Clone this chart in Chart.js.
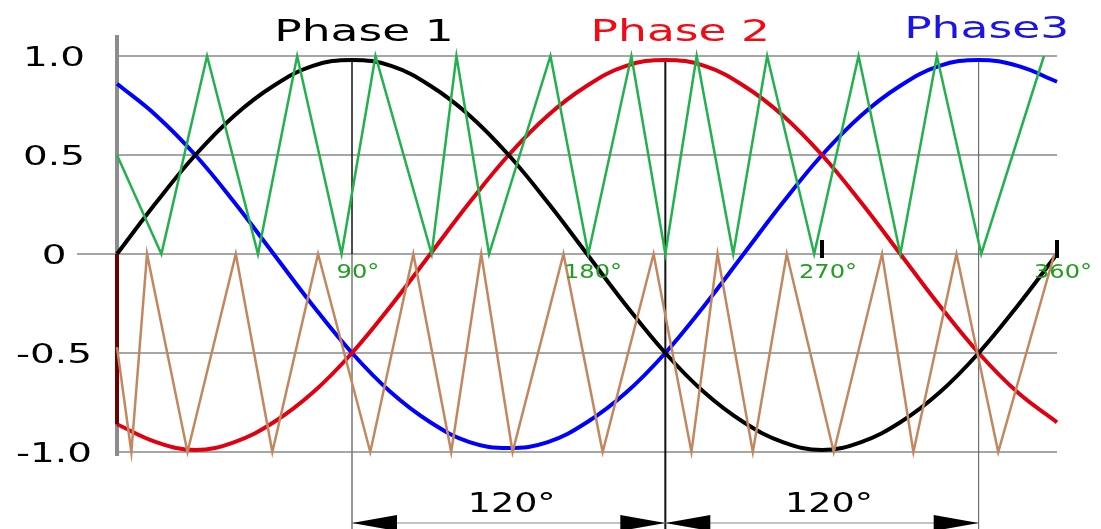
<!DOCTYPE html>
<html>
<head>
<meta charset="utf-8">
<script src="https://cdn.jsdelivr.net/npm/chart.js"></script>
<style>
  body { margin: 0; background: #fff; }
</style>
</head>
<body>
<canvas id="myChart" width="1101" height="529"></canvas>
<script>

const angles = [0, 15, 30, 45, 60, 75, 90, 105, 120, 135, 150, 165, 180, 195, 210, 225, 240, 255, 270, 285, 300, 315, 330, 345, 360];
const phase1 = [0, 0.26, 0.5, 0.7, 0.85, 0.95, 0.98, 0.95, 0.85, 0.7, 0.5, 0.26, 0, -0.26, -0.5, -0.7, -0.85, -0.95, -0.99, -0.95, -0.85, -0.7, -0.5, -0.26, 0];
const phase2 = [-0.86, -0.95, -0.99, -0.95, -0.85, -0.7, -0.5, -0.26, 0, 0.26, 0.5, 0.7, 0.85, 0.95, 0.98, 0.95, 0.85, 0.7, 0.5, 0.26, 0, -0.26, -0.5, -0.7, -0.85];
const phase3 = [0.86, 0.7, 0.5, 0.26, 0, -0.26, -0.5, -0.7, -0.85, -0.95, -0.98, -0.95, -0.85, -0.7, -0.5, -0.26, 0, 0.26, 0.5, 0.7, 0.85, 0.95, 0.98, 0.95, 0.87];

// portadora triangular verde (arriba) y marron (abajo)
const greenX = [0, 17, 34.5, 54, 69, 86, 99, 120.5, 130, 142.5, 166, 180.5, 197, 210, 222, 236, 249, 267, 284, 300, 314, 331, 355];
const greenY = [0.5, 0, 1, 0, 1, 0, 1, 0, 1, 0, 1, 0, 1, 0, 1, 0, 1, 0, 1, 0, 1, 0, 1];
const brownX = [0, 5.5, 11.5, 27, 45.5, 59.5, 77, 97, 113.5, 128, 139.5, 151.5, 171, 186, 205.5, 220, 230, 243.5, 256.5, 274.5, 293, 305, 321.5, 337.5, 359];
const brownY = [-0.47, -1, 0, -1, 0, -1, 0, -1, 0, -1, 0, -1, 0, -1, 0, -1, 0, -1, 0, -1, 0, -1, 0, -1, 0];

// tramo vertical oscuro al inicio
const startX = [0, 0];
const startY = [0, -0.86];

const yTicks = [1, 0.5, 0, -0.5, -1];
const yTickLabels = ['1.0', '0.5', '0', '-0.5', '-1.0'];
const xTicks = [90, 180, 270, 360];
const xTickLabels = ['90°', '180°', '270°', '360°'];
const markTicks = [270, 360];
const peaks = [90, 210, 330];
const titles = ['Phase 1', 'Phase 2', 'Phase3'];
const shiftLabel = '120°';

const pts = (xs, ys) => xs.map((v, i) => ({ x: v, y: ys[i] }));

function stretchText(ctx, txt, cx, base, size, color, sx) {
    ctx.save();
    ctx.font = size + 'px "DejaVu Sans"';
    ctx.fillStyle = color;
    ctx.textAlign = 'center';
    ctx.textBaseline = 'alphabetic';
    ctx.translate(cx, base);
    ctx.scale(sx, 1);
    ctx.fillText(txt, 0, 0);
    ctx.restore();
}

function line(ctx, x1, y1, x2, y2, color, w) {
    ctx.strokeStyle = color;
    ctx.lineWidth = w;
    ctx.beginPath();
    ctx.moveTo(x1, y1);
    ctx.lineTo(x2, y2);
    ctx.stroke();
}

function arrow(ctx, tip, dir, yy) {
    ctx.fillStyle = '#000';
    ctx.beginPath();
    ctx.moveTo(tip, yy);
    ctx.lineTo(tip + dir * 45, yy - 8);
    ctx.lineTo(tip + dir * 45, yy + 8);
    ctx.closePath();
    ctx.fill();
}

const extras = {
    id: 'extras',
    beforeDatasetsDraw(chart) {
        const { ctx, scales: { x, y } } = chart;
        const y0 = y.getPixelForValue(0);
        const yTop = y.getPixelForValue(1);
        ctx.save();
        line(ctx, 77, y0, x.left, y0, '#a6a6a6', 2);
        line(ctx, x.left, 35, x.left, y.bottom + 4, '#8c8c8c', 4);

        // lineas verticales en los picos
        const p1 = x.getPixelForValue(peaks[0]);
        line(ctx, p1, yTop + 4, p1, y0, '#111', 1.5);
        line(ctx, p1, y0, p1, 529, '#777', 1.5);
        const p2 = x.getPixelForValue(peaks[1]);
        line(ctx, p2, yTop + 4, p2, 529, '#111', 2);
        const p3 = x.getPixelForValue(peaks[2]);
        line(ctx, p3, yTop + 4, p3, 529, '#555', 1);
        ctx.restore();
    },
    afterDraw(chart) {
        const { ctx, scales: { x, y } } = chart;
        const y0 = y.getPixelForValue(0);
        ctx.save();

        markTicks.forEach(v => {
            const px = x.getPixelForValue(v);
            line(ctx, px, y0 - 14, px, y0 + 4, '#000', 4);
        });

        yTicks.forEach((v, i) => {
            stretchText(ctx, yTickLabels[i], 54, y.getPixelForValue(v) + 10, 27, '#000', 1.44);
        });

        xTicks.forEach((v, i) => {
            stretchText(ctx, xTickLabels[i], x.getPixelForValue(v) + 6, y0 + 24, 19, '#1f9e1f', 1.27);
        });

        const titleColors = ['#000', '#f20a14', '#1a14e6'];
        const titleShift = [12, 15, 8];
        const titleBase = [41, 41, 38];
        titles.forEach((t, i) => {
            stretchText(ctx, t, x.getPixelForValue(peaks[i]) + titleShift[i], titleBase[i], 31, titleColors[i], 1.47);
        });

        // cotas de 120 grados
        const a = x.getPixelForValue(peaks[0]);
        const b = x.getPixelForValue(peaks[1]);
        const c = x.getPixelForValue(peaks[2]);
        const dimY = 523;
        line(ctx, a, dimY, c, dimY, '#888', 1);
        arrow(ctx, a, 1, dimY);
        arrow(ctx, b, -1, dimY);
        arrow(ctx, b, 1, dimY);
        arrow(ctx, c, -1, dimY);
        stretchText(ctx, shiftLabel, (a + b) / 2 + 3, 512, 27, '#000', 1.35);
        stretchText(ctx, shiftLabel, (b + c) / 2 + 7, 512, 27, '#000', 1.35);
        ctx.restore();
    }
};

const ctx = document.querySelector('#myChart');

new Chart(ctx, {
    type: 'line',
    data: {
        datasets: [
            { label: 'green', data: pts(greenX, greenY), borderColor: '#22b14c', borderWidth: 2.5, tension: 0 },
            { label: 'brown', data: pts(brownX, brownY), borderColor: '#c3875f', borderWidth: 2.5, tension: 0 },
            { label: 'start', data: pts(startX, startY), borderColor: '#6a0004', borderWidth: 4 },
            { label: 'Phase 1', data: pts(angles, phase1), borderColor: '#000000', borderWidth: 4, tension: 0.4 },
            { label: 'Phase 2', data: pts(angles, phase2), borderColor: '#e00010', borderWidth: 4, tension: 0.4 },
            { label: 'Phase3', data: pts(angles, phase3), borderColor: '#0000ff', borderWidth: 4, tension: 0.4 }
        ]
    },
    options: {
        responsive: false,
        animation: false,
        devicePixelRatio: 1,
        layout: { padding: { left: 117, right: 44, top: 56, bottom: 77 } },
        elements: { point: { radius: 0 } },
        datasets: { line: { clip: false } },
        plugins: { legend: { display: false }, tooltip: { enabled: false } },
        scales: {
            x: {
                type: 'linear', min: 0, max: 360, display: false
            },
            y: {
                min: -1, max: 1,
                afterBuildTicks: (s) => { s.ticks = yTicks.map(v => ({ value: v })); },
                ticks: { display: false },
                grid: { color: '#a6a6a6', lineWidth: 2, drawTicks: false },
                border: { display: false }
            }
        }
    },
    plugins: [extras]
});

</script>
</body>
</html>
